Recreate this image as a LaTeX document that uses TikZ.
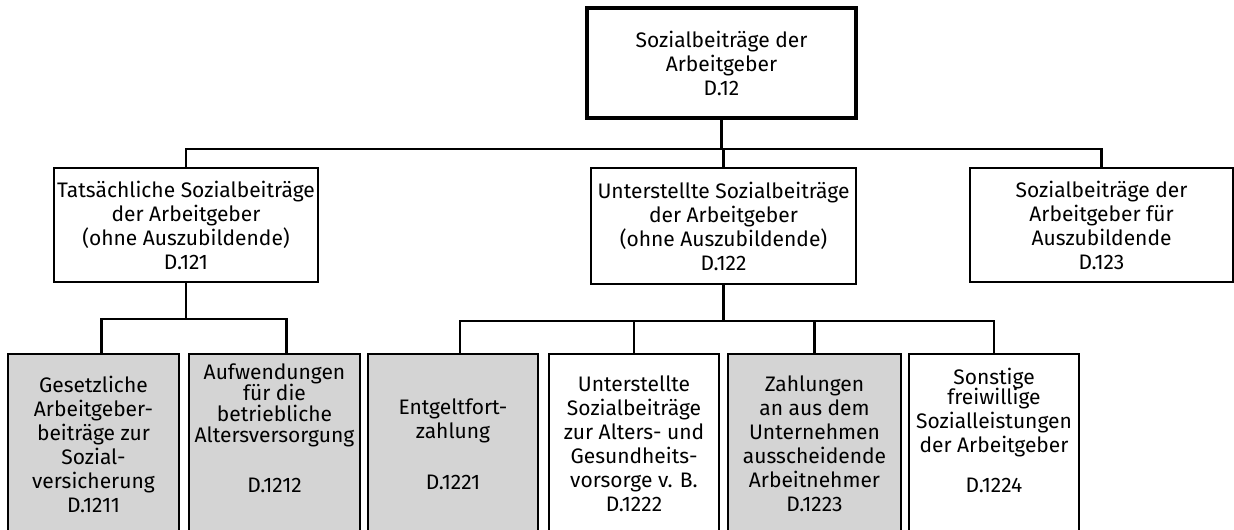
\documentclass[tikz,border=0pt]{standalone}
\usepackage{fontspec}
\setmainfont{Fira Sans}
\definecolor{boxgray}{RGB}{212,212,212}
\begin{document}
\begin{tikzpicture}[x=1pt,y=-1pt,
    font=\fontsize{21}{24}\selectfont,
    box/.style={draw,line width=1.6pt,anchor=north west,align=center,inner sep=0pt,outer sep=0pt},
    topbox/.style={box,line width=4.5pt},
    leaf/.style={box,minimum height=180,fill=boxgray},
    leafw/.style={leaf,fill=white},
    link/.style={line width=2.6pt}]
  \useasboundingbox (0,0) rectangle (1234,530);
  \node[topbox,minimum width=269,minimum height=110] (d12) at (587,8)
    {Sozialbeiträge der\\Arbeitgeber\\D.12};
  \node[box,minimum width=264,minimum height=114] (d121) at (54,168)
    {Tatsächliche Sozialbeiträge\\der Arbeitgeber\\(ohne Auszubildende)\\D.121};
  \node[box,minimum width=265,minimum height=116] (d122) at (591,168)
    {Unterstellte Sozialbeiträge\\der Arbeitgeber\\(ohne Auszubildende)\\D.122};
  \node[box,minimum width=263,minimum height=114] (d123) at (970,168)
    {Sozialbeiträge der\\Arbeitgeber für\\Auszubildende\\D.123};
  \node[leaf,minimum width=171] (d1211) at (8,354)
    {Gesetzliche\\Arbeitgeber-\\beiträge zur\\Sozial-\\versicherung\\D.1211};
  \node[leaf,minimum width=171,text depth=32pt] (d1212) at (189,354)
    {Aufwendungen\\[-3pt]für die\\[-3pt]betriebliche\\[-3pt]Altersversorgung\\[26pt]D.1212};
  \node[leaf,minimum width=170] (d1221) at (368,354)
    {Entgeltfort-\\zahlung\\[27pt]D.1221};
  \node[leafw,minimum width=170] (d1222) at (549,354)
    {Unterstellte\\Sozialbeiträge\\zur Alters- und\\Gesundheits-\\vorsorge v. B.\\D.1222};
  \node[leaf,minimum width=173] (d1223) at (728,354)
    {Zahlungen\\an aus dem\\Unternehmen\\ausscheidende\\Arbeitnehmer\\D.1223};
  \node[leafw,minimum width=170,text depth=28pt] (d1224) at (909,354)
    {Sonstige\\[-4pt]freiwillige\\Sozialleistungen\\der Arbeitgeber\\[16pt]D.1224};
  \coordinate (bus1) at (0,149);
  \coordinate (bus2) at (0,319);
  \coordinate (bus3) at (0,321);
  \draw[link] (d12.south) -- (d12.south |- bus1) -| (d121.north);
  \draw[link] (d12.south |- bus1) -| (d122.north);
  \draw[link] (d12.south |- bus1) -| (d123.north);
  \draw[link] (d121.south) -- (d121.south |- bus2);
  \draw[link] ([xshift=8]d1211.north) |- (d121.south |- bus2) -| ([xshift=12]d1212.north);
  \draw[link] (d122.south) -- (d122.south |- bus3) -| ([xshift=7]d1221.north);
  \draw[link] (d122.south |- bus3) -| (d1222.north);
  \draw[link] (d122.south |- bus3) -| (d1223.north);
  \draw[link] (d122.south |- bus3) -| (d1224.north);
\end{tikzpicture}
\end{document}
